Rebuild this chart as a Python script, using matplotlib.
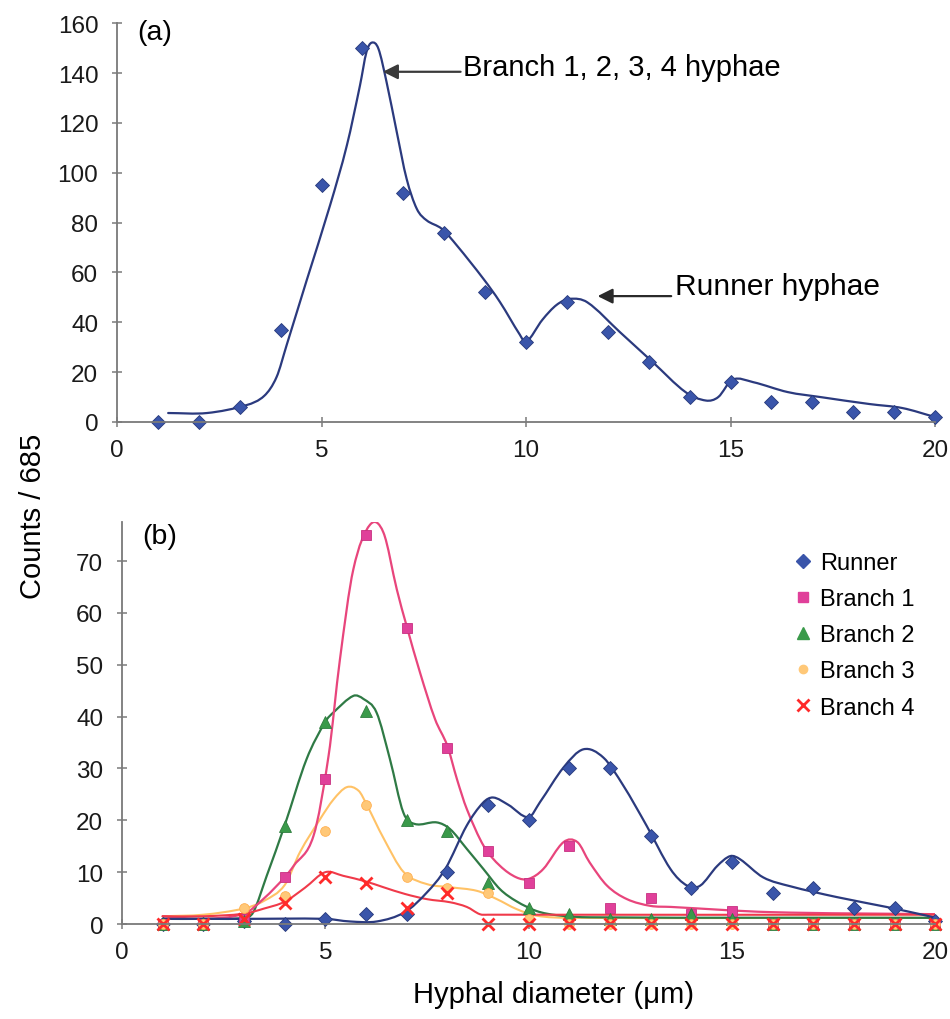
import matplotlib
matplotlib.use('Agg')
import matplotlib.pyplot as plt
from matplotlib.lines import Line2D
from matplotlib.path import Path
from matplotlib.patches import PathPatch

plt.rcParams['font.family'] = ['Liberation Sans', 'DejaVu Sans']

# diameter classes (um)
diam = list(range(1, 21))

# (a) all hyphae, counts / 685
total = [0, 0, 6, 37, 95, 150, 92, 76, 52, 32, 48, 36, 24, 10, 16, 8, 8, 4, 4, 2]
# smoothed line
total_fit_x = [1.25, 2.2, 3.17, 3.6, 3.9, 4.15, 4.64, 5.21, 5.62, 5.94, 6.1, 6.23, 6.39,
               6.59, 6.84, 7.08, 7.33, 7.57, 7.94, 8.31, 8.96, 9.36, 9.85, 10.0, 10.4,
               10.75, 11.07, 11.5, 12.3, 13.1, 13.9, 14.4, 14.7, 15.05, 15.55, 16.4,
               17.2, 18.4, 19.2, 20.0]
total_fit_y = [3.6, 3.6, 6.8, 10.5, 18, 31, 57, 87, 111, 135, 148.5, 152.2, 149.8,
               136.4, 116.3, 97.6, 85.5, 80.9, 77.5, 70.8, 57.4, 48.2, 35, 32, 41,
               47, 49.4, 48, 36, 24, 12, 8.6, 10, 17, 16, 12,
               10, 7.2, 5.6, 2.0]

# (b) per hyphal type
runner = [0, 0, 0.5, 0, 1, 2, 2, 10, 23, 20, 30, 30, 17, 7, 12, 6, 7, 3, 3, 0.6]
branch1 = [0, 0, 1, 9, 28, 75, 57, 34, 14, 8, 15, 3, 5, 2, 2.5, 0, 0, 0, 0, 0]
branch2 = [0, 0, 0.5, 19, 39, 41, 20, 18, 8, 3, 2, 1, 1, 2, 1, 0, 0, 0, 0, 0]
branch3 = [0, 0, 3, 5.5, 18, 23, 9, 7, 6, 1, 0, 0, 0, 0, 0, 0, 0, 0, 0, 0]
branch4 = [0, 0, 1, 4, 9, 8, 3, 6, 0, 0, 0, 0, 0, 0, 0, 0, 0, 0, 0, 0]

runner_fit_x = [1, 3, 5, 5.6, 6.27, 6.96, 7.5, 7.95, 8.48, 8.88, 9.13, 9.5, 10.0, 10.28,
                10.86, 11.35, 11.84, 12.33, 12.9, 13.49, 13.9, 14.22, 14.64, 14.96,
                15.2, 15.77, 16.43, 17.58, 18.8, 19.8, 20]
runner_fit_y = [1.0, 1.0, 1.0, 0.5, 0.5, 2.3, 6.1, 10.6, 19, 23.4, 24.4, 23.0, 20.6, 23.5,
                30.2, 33.7, 32.1, 26.7, 19, 10.6, 7.4, 7.4, 11.2, 13.1,
                12.5, 9, 7.3, 5.2, 3.3, 1.6, 1.2]
branch1_fit_x = [1, 2, 3, 3.5, 4.0, 4.22, 4.71, 5.08, 5.36, 5.69, 6.1, 6.43, 6.76, 7.0,
                 7.33, 7.7, 8.0, 8.24, 8.48, 8.9, 9.3, 9.7, 10.0, 10.36, 10.86, 11.2,
                 11.5, 11.93, 12.42, 13.0, 13.5, 15.94, 20]
branch1_fit_y = [1.5, 1.0, 2.0, 5.0, 9.0, 11.2, 17, 32.4, 51, 68.4, 77.0, 75.5, 64.5, 57.5,
                 48.5, 39.5, 34.4, 27.9, 22.2, 15.0, 11.2, 9.0, 8.7, 10.6, 15.8, 15.8,
                 11.9, 7.4, 4.8, 3.5, 3.3, 2.3, 1.9]
branch2_fit_x = [1, 2, 3, 3.23, 3.56, 4.0, 4.54, 5.0, 5.2, 5.69, 5.94, 6.26, 6.59, 6.92,
                 7.2, 7.74, 8.07, 8.48, 8.89, 9.3, 9.7, 10.2, 10.7, 11.5, 20]
branch2_fit_y = [1.0, 1.0, 1.2, 2.3, 9.3, 19, 31.8, 39, 40.8, 44, 43.4, 40.8, 31.8, 21.5,
                 19.3, 19.6, 18.3, 14.5, 10.6, 6.7, 4.4, 2.5, 1.7, 1.3, 1.2]
branch3_fit_x = [1, 2, 3, 3.5, 4.0, 4.38, 4.87, 5.2, 5.53, 5.82, 6.02, 6.43, 6.93, 7.5,
                 8.07, 8.73, 9.22, 9.7, 10.2, 11, 20]
branch3_fit_y = [1.5, 1.8, 3.0, 4.5, 7.5, 13.9, 20.2, 24, 26.4, 25.7, 23, 16.6, 10, 7.7,
                 7.1, 6.4, 4.8, 2.9, 1.6, 1.2, 1.2]
branch4_fit_x = [1, 2, 3, 3.5, 4.0, 4.5, 5.0, 5.44, 6.0, 6.43, 6.96, 7.5, 8.07, 8.48,
                 8.8, 9.0, 20]
branch4_fit_y = [1.5, 1.5, 2.0, 3.0, 4.3, 7.0, 10.0, 9.3, 8.2, 7.1, 5.8, 4.8, 4.2, 3.3,
                 1.9, 1.8, 1.8]

AXIS_GREY = '#7a7a7a'


def smooth_line(ax, xs, ys, **kw):
    # smoothed line through the read nodes, cubic bezier segments (monotone in x)
    n = len(xs)
    slopes = []
    for i in range(n):
        a = max(i - 1, 0)
        b = min(i + 1, n - 1)
        slopes.append((ys[b] - ys[a]) / (xs[b] - xs[a]))
    verts = [(xs[0], ys[0])]
    codes = [Path.MOVETO]
    for i in range(n - 1):
        h = (xs[i + 1] - xs[i]) / 3.0
        verts.append((xs[i] + h, ys[i] + slopes[i] * h))
        verts.append((xs[i + 1] - h, ys[i + 1] - slopes[i + 1] * h))
        verts.append((xs[i + 1], ys[i + 1]))
        codes += [Path.CURVE4] * 3
    patch = PathPatch(Path(verts, codes), fill=False, capstyle='round',
                      joinstyle='round', **kw)
    ax.add_patch(patch)


def style_axis(ax, ymax, yticks):
    ax.set_xlim(0, 20)
    ax.set_ylim(0, ymax)
    ax.set_xticks([0, 5, 10, 15, 20])
    ax.set_yticks(yticks)
    for s in ['top', 'right']:
        ax.spines[s].set_visible(False)
    for s in ['left', 'bottom']:
        ax.spines[s].set_color(AXIS_GREY)
        ax.spines[s].set_linewidth(1.3)
    ax.tick_params(direction='inout', length=7, width=1.1, color=AXIS_GREY,
                   labelsize=17.5, labelcolor='#1a1a1a')
    ax.tick_params(axis='x', pad=9)
    ax.tick_params(axis='y', pad=10)


fig = plt.figure(figsize=(9.5, 10.2), dpi=100)

# ---- panel (a)
ax1 = fig.add_axes([0.1232, 0.5853, 0.861, 0.391])
style_axis(ax1, 160, range(0, 161, 20))
smooth_line(ax1, total_fit_x, total_fit_y, edgecolor='#2b3a7e', lw=1.6)
ax1.plot(diam, total, 'D', color='#3a55aa', ms=7, mec='#27397a', mew=0.6, clip_on=False)
ax1.text(0.5, 156.5, '(a)', fontsize=20.5, va='center', ha='left')
ax1.annotate('', xy=(6.5, 140.5), xytext=(8.4, 140.5),
             arrowprops=dict(arrowstyle='-|>,head_length=0.9,head_width=0.45',
                             color='#3a3a3a', lw=1.6, shrinkA=0, shrinkB=0))
ax1.text(8.45, 142.5, 'Branch 1, 2, 3, 4 hyphae', fontsize=21, va='center', ha='left')
ax1.annotate('', xy=(11.75, 50.5), xytext=(13.55, 50.5),
             arrowprops=dict(arrowstyle='-|>,head_length=0.9,head_width=0.45',
                             color='#2a2a2a', lw=1.6, shrinkA=0, shrinkB=0))
ax1.text(13.65, 54.5, 'Runner hyphae', fontsize=21.5, va='center', ha='left')

# ---- panel (b)
ax2 = fig.add_axes([0.1284, 0.0931, 0.856, 0.394])
style_axis(ax2, 77.5, range(0, 71, 10))

smooth_line(ax2, branch3_fit_x, branch3_fit_y, edgecolor='#ffc266', lw=1.5)
smooth_line(ax2, branch2_fit_x, branch2_fit_y, edgecolor='#2f7a45', lw=1.6)
smooth_line(ax2, branch1_fit_x, branch1_fit_y, edgecolor='#e8457c', lw=1.6)
smooth_line(ax2, branch4_fit_x, branch4_fit_y, edgecolor='#f03a4a', lw=1.5)
smooth_line(ax2, runner_fit_x, runner_fit_y, edgecolor='#2b3a7e', lw=1.6)

ax2.plot(diam, runner, 'D', color='#3a55aa', ms=7, mec='#27397a', mew=0.6, clip_on=False)
ax2.plot(diam, branch1, 's', color='#e0409a', ms=7, mec='#c83080', mew=0.6, clip_on=False)
ax2.plot(diam, branch2, '^', color='#3a9a4a', ms=8, mec='#2e7d3e', mew=0.6, clip_on=False)
ax2.plot(diam, branch3, 'o', color='#ffc878', ms=7, mec='#ffb050', mew=0.6, clip_on=False)
ax2.plot(diam, branch4, 'x', color='#ff2a2a', ms=8, mew=2, clip_on=False)
ax2.text(0.5, 74.8, '(b)', fontsize=20.5, va='center', ha='left')

handles = [
    Line2D([], [], ls='none', marker='D', color='#3a55aa', ms=7),
    Line2D([], [], ls='none', marker='s', color='#e0409a', ms=7),
    Line2D([], [], ls='none', marker='^', color='#3a9a4a', ms=8),
    Line2D([], [], ls='none', marker='o', color='#ffc878', ms=6),
    Line2D([], [], ls='none', marker='x', color='#ff2a2a', ms=8, mew=2),
]
ax2.legend(handles, ['Runner', 'Branch 1', 'Branch 2', 'Branch 3', 'Branch 4'],
           loc='upper left', bbox_to_anchor=(0.838, 0.458),
           bbox_transform=fig.transFigure, frameon=False, fontsize=17,
           handlelength=0.6, handletextpad=0.4, labelspacing=0.6,
           borderpad=0, borderaxespad=0)

fig.text(0.035, 0.494, 'Counts / 685', rotation=90, fontsize=21, va='center', ha='center')
fig.text(0.583, 0.0245, 'Hyphal diameter (\u03bcm)', fontsize=21, va='center', ha='center')

fig.savefig('out.png', dpi=100)
